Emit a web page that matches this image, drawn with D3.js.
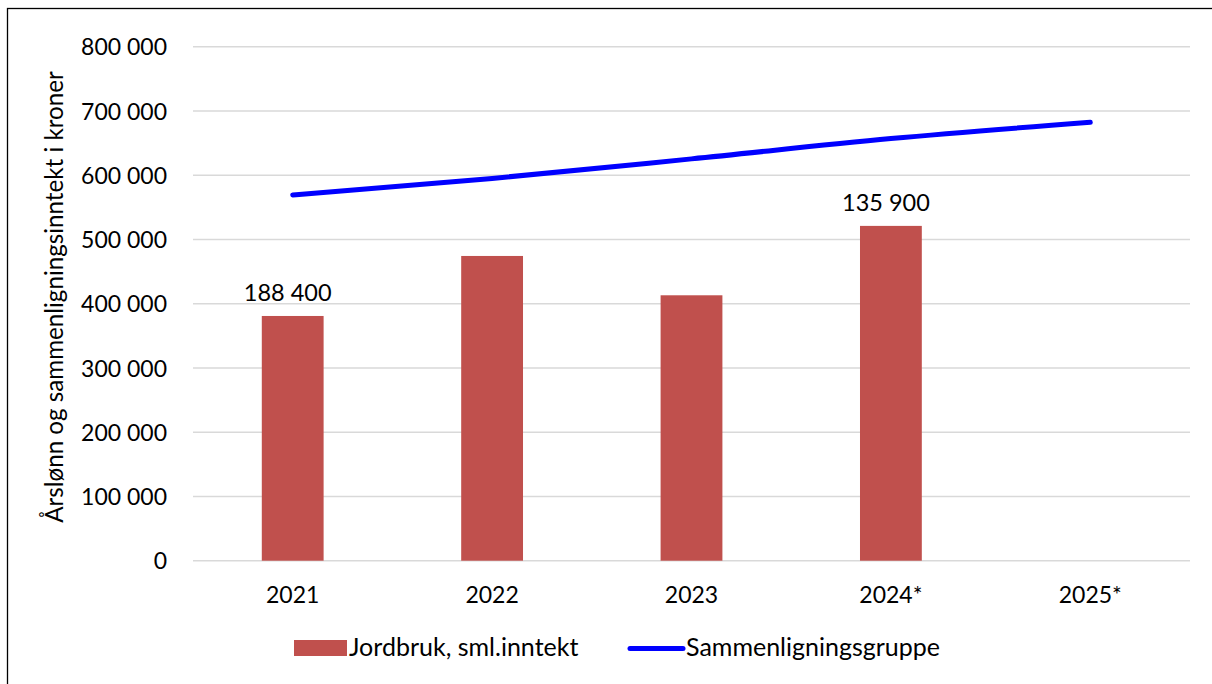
<!DOCTYPE html>
<html>
<head>
<meta charset="utf-8">
<script src="https://cdn.jsdelivr.net/npm/d3@7"></script>
<style>
  html, body { margin: 0; padding: 0; background: #fff; }
  svg { display: block; }
  text { font-family: Lato, "Open Sans", sans-serif; fill: #000; }
</style>
</head>
<body>
<svg id="chart" width="1212" height="684"></svg>
<script>
// Years on the x axis
const years = ["2021", "2022", "2023", "2024*", "2025*"];
// Jordbruk, sammenligningsinntekt (kr) – no value yet for 2025
const farmIncome = [380900, 474300, 413100, 521100, null];
// Sammenligningsgruppe, årslønn (kr)
const comparisonGroup = [569300, 595000, 625400, 657000, 682300];
// Gap between the groups, shown above selected bars
const gapLabels = [188400, null, null, 135900, null];
// Y axis ticks
const yTicks = [0, 100000, 200000, 300000, 400000, 500000, 600000, 700000, 800000];

const seriesNames = ["Jordbruk, sml.inntekt", "Sammenligningsgruppe"];
const yTitle = "Årslønn og sammenligningsinntekt i kroner";

const svg = d3.select("#chart");
const plot = { left: 193, right: 1190, top: 46.7, bottom: 560.7 };

const nb = d3.formatLocale({ decimal: ",", thousands: "\u00a0", grouping: [3], currency: ["", " kr"] });
const fmt = nb.format(",d");

const x = d3.scaleBand().domain(years).range([plot.left, plot.right]).paddingInner(0.69).paddingOuter(0.345);
const xc = d => x(d) + x.bandwidth() / 2;
const y = d3.scaleLinear().domain([0, 800000]).range([plot.bottom, plot.top]);

// Chart frame
svg.append("rect")
  .attr("x", 7.5).attr("y", 8.5).attr("width", 1400).attr("height", 1000)
  .attr("fill", "none").attr("stroke", "#000").attr("stroke-width", 1.3);

// Gridlines
svg.append("g")
  .selectAll("line").data(yTicks).join("line")
  .attr("x1", plot.left).attr("x2", plot.right)
  .attr("y1", d => y(d)).attr("y2", d => y(d))
  .attr("stroke", "#d9d9d9").attr("stroke-width", 1.5);

// Y axis labels
const yAxis = d3.axisLeft(y).tickValues(yTicks).tickFormat(fmt).tickSize(0).tickPadding(0);
svg.append("g")
  .attr("transform", `translate(${plot.left - 26},0)`)
  .call(yAxis)
  .call(g => g.select(".domain").remove())
  .call(g => g.selectAll("text")
    .attr("font-family", "Lato, sans-serif").attr("font-size", 23).attr("fill", "#000")
    .attr("dy", "0.36em"));

// X axis labels
const xAxis = d3.axisBottom(x).tickSize(0).tickPadding(0);
svg.append("g")
  .attr("transform", `translate(0,603)`)
  .call(xAxis)
  .call(g => g.select(".domain").remove())
  .call(g => g.selectAll("text")
    .attr("font-family", "Lato, sans-serif").attr("font-size", 23).attr("fill", "#000")
    .attr("dy", 0).attr("y", 0));

// Y axis title
svg.append("text")
  .attr("transform", `translate(63,297) rotate(-90)`)
  .attr("text-anchor", "middle")
  .attr("font-size", 24.2)
  .text(yTitle);

// Bars
const barData = years.map((yr, i) => ({ yr, v: farmIncome[i], gap: gapLabels[i] }));
svg.append("g")
  .selectAll("rect").data(barData.filter(d => d.v != null)).join("rect")
  .attr("x", d => x(d.yr))
  .attr("width", x.bandwidth())
  .attr("y", d => y(d.v))
  .attr("height", d => y(0) - y(d.v))
  .attr("fill", "#c0504d");

// Gap labels above bars
svg.append("g")
  .selectAll("text").data(barData.filter(d => d.gap != null && d.v != null)).join("text")
  .attr("x", d => xc(d.yr) - 5)
  .attr("y", d => y(d.v) - 14.5)
  .attr("text-anchor", "middle")
  .attr("font-size", 23.5)
  .text(d => fmt(d.gap));

// Comparison group line
const lineData = years.map((yr, i) => ({ yr, v: comparisonGroup[i] }));
svg.append("path")
  .datum(lineData)
  .attr("fill", "none")
  .attr("stroke", "#0000ff")
  .attr("stroke-width", 5)
  .attr("stroke-linecap", "round")
  .attr("stroke-linejoin", "round")
  .attr("d", d3.line().x(d => xc(d.yr)).y(d => y(d.v)).curve(d3.curveMonotoneX));

// Legend
const legend = svg.append("g");
legend.append("rect")
  .attr("x", 294).attr("y", 640).attr("width", 53).attr("height", 16)
  .attr("fill", "#c0504d");
legend.append("text")
  .attr("x", 349).attr("y", 656).attr("font-size", 25)
  .text(seriesNames[0]);
legend.append("line")
  .attr("x1", 630).attr("x2", 683).attr("y1", 648.5).attr("y2", 648.5)
  .attr("stroke", "#0000ff").attr("stroke-width", 5).attr("stroke-linecap", "round");
legend.append("text")
  .attr("x", 686).attr("y", 656).attr("font-size", 25)
  .text(seriesNames[1]);
</script>
</body>
</html>
